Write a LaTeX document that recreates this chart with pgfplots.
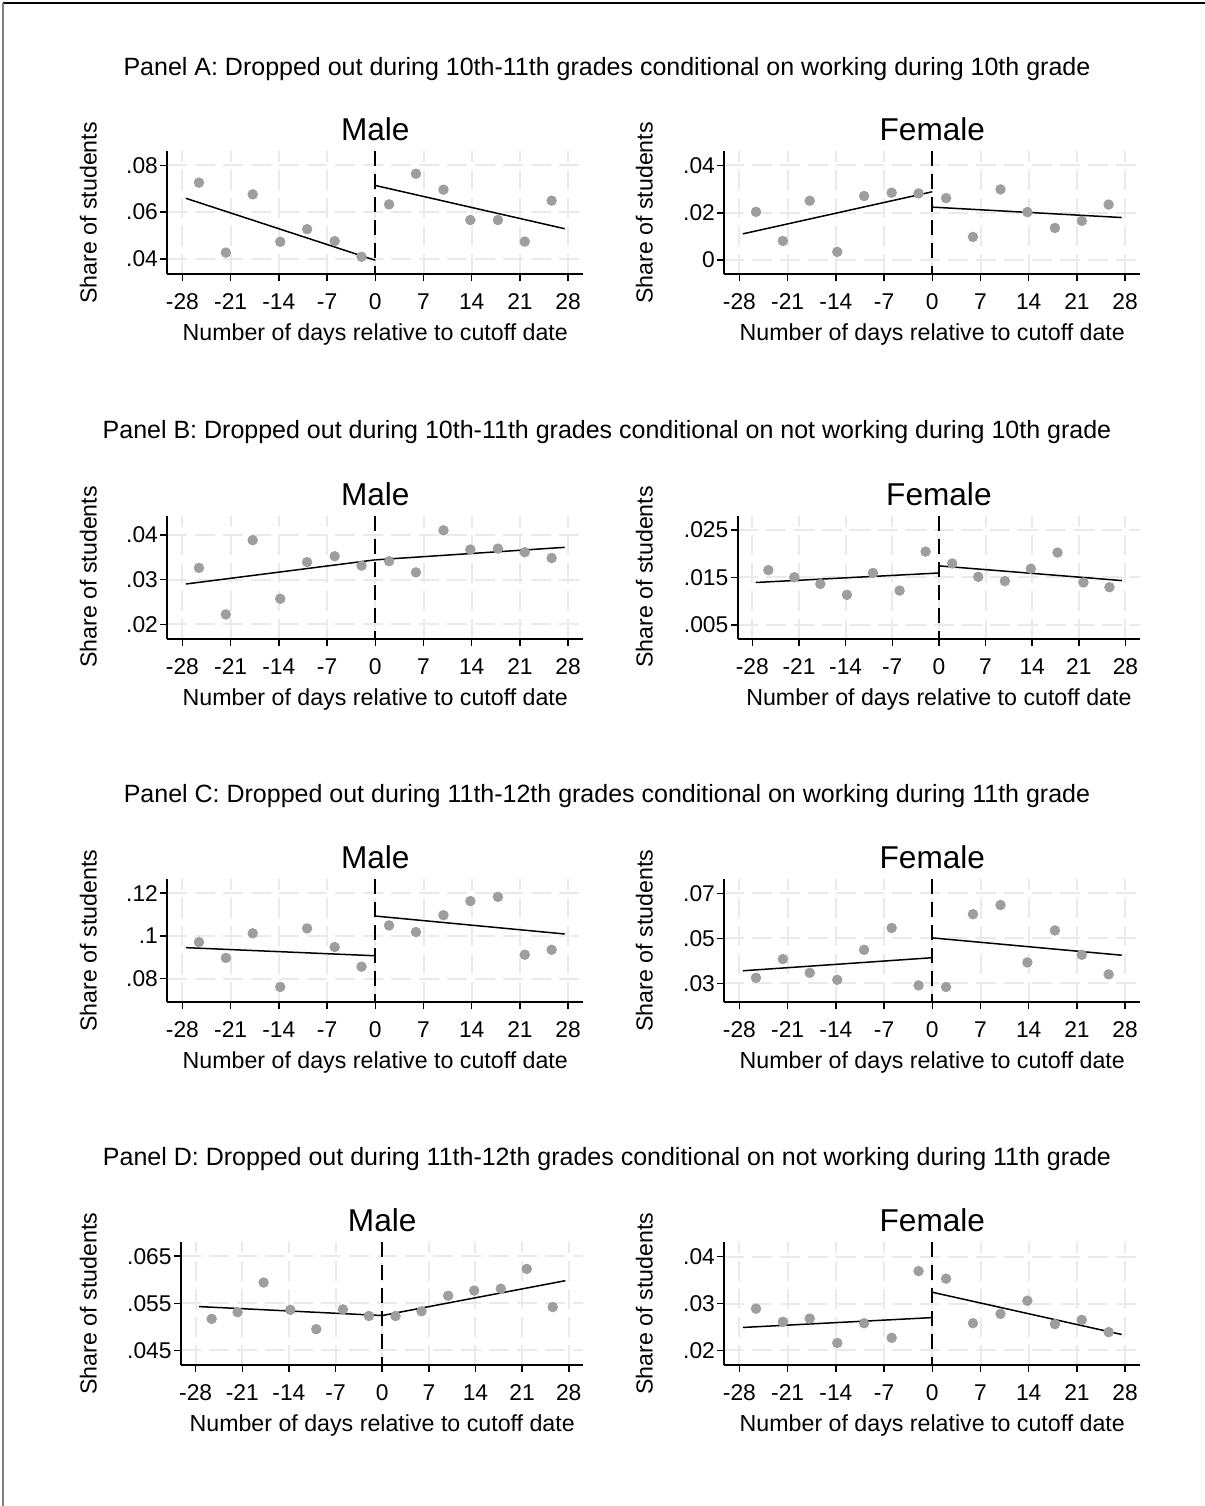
\documentclass[border=0pt]{standalone}
\usepackage{fontspec}
\setmainfont{Liberation Sans}
\usepackage{pgfplots}
\pgfplotsset{compat=1.18}
\definecolor{gridc}{RGB}{234,234,234}
\definecolor{dotc}{RGB}{158,158,158}
\pgfplotsset{
  rd/.style={
    scale only axis, height=61.5pt, width=208pt,
    xmin=-30.2, xmax=30.2,
    axis x line=bottom, axis y line=left,
    axis line style={-, black, line width=1pt},
    every outer x axis line/.append style={-},
    every outer y axis line/.append style={-},
    tick align=outside, major tick length=3.5pt,
    tick style={black, line width=0.75pt},
    scaled y ticks=false, scaled x ticks=false,
    xtick={-28,-21,-14,-7,0,7,14,21,28},
    xticklabels={-28,-21,-14,-7,0,7,14,21,28},
    grid=major, major grid style={gridc, line width=1pt, dash pattern=on 10pt off 4pt},
    ticklabel style={font=\fontsize{11.4}{13}\selectfont},
    xticklabel style={anchor=base, yshift=-14pt},
    yticklabel style={anchor=east, inner xsep=1pt},
    title style={font=\fontsize{15.8}{18}\selectfont, at={(axis description cs:0.5,1)}, anchor=base, yshift=-0.8pt},
    xlabel={Number of days relative to cutoff date},
    xlabel style={font=\fontsize{11.6}{14}\selectfont, at={(axis description cs:0.5,0)}, anchor=base, yshift=-33.3pt},
    anchor=south west,
  },
  pts/.style={only marks, mark=*, mark size=2.4pt, color=dotc},
  fit/.style={black, line width=0.75pt, no marks},
  zero/.style={black, line width=1pt, dash pattern=on 7.5pt off 4pt, no marks},
}
\begin{document}
\begin{tikzpicture}
\path[use as bounding box] (0,0) rectangle (602.5pt,-753pt);
\draw[black, line width=0.6pt] (1.5pt,-1.5pt) -- (602.5pt,-1.5pt);
\draw[gray, line width=0.8pt] (1.5pt,-1.5pt) -- (1.5pt,-753pt);

% headers
\node[anchor=base, font=\fontsize{12.5}{15}\selectfont] at (303.5pt,-37.5pt) {Panel A: Dropped out during 10th-11th grades conditional on working during 10th grade};
\node[anchor=base, font=\fontsize{12.5}{15}\selectfont] at (303.5pt,-219.15pt) {Panel B: Dropped out during 10th-11th grades conditional on not working during 10th grade};
\node[anchor=base, font=\fontsize{12.5}{15}\selectfont] at (303.5pt,-401.15pt) {Panel C: Dropped out during 11th-12th grades conditional on working during 11th grade};
\node[anchor=base, font=\fontsize{12.5}{15}\selectfont] at (303.5pt,-582.8pt) {Panel D: Dropped out during 11th-12th grades conditional on not working during 11th grade};

% y labels
\foreach \yy in {-106.5,-288.5,-470.3,-651.8}{
  \node[rotate=90, anchor=base, font=\fontsize{11.6}{14}\selectfont] at (48.35pt,\yy pt) {Share of students};
  \node[rotate=90, anchor=base, font=\fontsize{11.6}{14}\selectfont] at (326.35pt,\yy pt) {Share of students};
}

% Panel A male
\begin{axis}[rd, at={(83.65pt,-137.15pt)}, ymin=0.0334, ymax=0.086,
  ytick={0.04,0.06,0.08}, yticklabels={.04,.06,.08}, title={Male}]
\addplot[pts] coordinates {(-25.6,0.0726)(-21.7,0.0427)(-17.8,0.0676)(-13.8,0.0473)(-9.9,0.0527)(-5.9,0.0476)(-2.0,0.0409)
 (2.0,0.0633)(5.9,0.0764)(9.9,0.0696)(13.8,0.0566)(17.8,0.0566)(21.7,0.0474)(25.6,0.0649)};
\addplot[fit] coordinates {(-27.5,0.0659)(0,0.0394)};
\addplot[fit] coordinates {(0,0.0714)(27.5,0.0529)};
\addplot[zero] coordinates {(0,0.086)(0,0.0334)};
\end{axis}

% Panel A female
\begin{axis}[rd, at={(362.15pt,-137.15pt)}, ymin=-0.006, ymax=0.046,
  ytick={0,0.02,0.04}, yticklabels={0,.02,.04}, title={Female}]
\addplot[pts] coordinates {(-25.6,0.0204)(-21.7,0.0081)(-17.8,0.0251)(-13.8,0.0035)(-9.9,0.0271)(-5.9,0.0285)(-2.0,0.0282)
 (2.0,0.0262)(5.9,0.0098)(9.9,0.0299)(13.8,0.0203)(17.8,0.0136)(21.7,0.0166)(25.6,0.0235)};
\addplot[fit] coordinates {(-27.5,0.0111)(0,0.0289)};
\addplot[fit] coordinates {(0,0.0224)(27.5,0.0180)};
\addplot[zero] coordinates {(0,0.046)(0,-0.006)};
\end{axis}

% Panel B male
\begin{axis}[rd, at={(83.65pt,-319.5pt)}, ymin=0.0167, ymax=0.0442,
  ytick={0.02,0.03,0.04}, yticklabels={.02,.03,.04}, title={Male}]
\addplot[pts] coordinates {(-25.6,0.0326)(-21.7,0.0222)(-17.8,0.0388)(-13.8,0.0257)(-9.9,0.0339)(-5.9,0.0352)(-2.0,0.0331)
 (2.0,0.0341)(5.9,0.0316)(9.9,0.0410)(13.8,0.0367)(17.8,0.0369)(21.7,0.0361)(25.6,0.0348)};
\addplot[fit] coordinates {(-27.5,0.0290)(0,0.0344)};
\addplot[fit] coordinates {(0,0.0344)(27.5,0.0372)};
\addplot[zero] coordinates {(0,0.0442)(0,0.0167)};
\end{axis}

% Panel B female
\begin{axis}[rd, at={(368.85pt,-319.5pt)}, width=201.2pt, ymin=0.0020, ymax=0.0279,
  ytick={0.005,0.015,0.025}, yticklabels={.005,.015,.025}, title={Female}]
\addplot[pts] coordinates {(-25.6,0.0165)(-21.7,0.0150)(-17.8,0.0136)(-13.8,0.0113)(-9.9,0.0159)(-5.9,0.0122)(-2.0,0.0204)
 (2.0,0.0179)(5.9,0.0151)(9.9,0.0142)(13.8,0.0168)(17.8,0.0202)(21.7,0.0139)(25.6,0.0129)};
\addplot[fit] coordinates {(-27.5,0.0139)(0,0.0159)};
\addplot[fit] coordinates {(0,0.0174)(27.5,0.0143)};
\addplot[zero] coordinates {(0,0.0279)(0,0.0020)};
\end{axis}

% Panel C male
\begin{axis}[rd, at={(83.65pt,-501.15pt)}, ymin=0.0689, ymax=0.1265,
  ytick={0.08,0.1,0.12}, yticklabels={.08,.1,.12}, title={Male}]
\addplot[pts] coordinates {(-25.6,0.0971)(-21.7,0.0897)(-17.8,0.1012)(-13.8,0.0761)(-9.9,0.1035)(-5.9,0.0948)(-2.0,0.0856)
 (2.0,0.1049)(5.9,0.1018)(9.9,0.1097)(13.8,0.1163)(17.8,0.1183)(21.7,0.0912)(25.6,0.0935)};
\addplot[fit] coordinates {(-27.5,0.0945)(0,0.0907)};
\addplot[fit] coordinates {(0,0.1093)(27.5,0.1009)};
\addplot[zero] coordinates {(0,0.1265)(0,0.0689)};
\end{axis}

% Panel C female
\begin{axis}[rd, at={(362.15pt,-501.15pt)}, ymin=0.0216, ymax=0.0762,
  ytick={0.03,0.05,0.07}, yticklabels={.03,.05,.07}, title={Female}]
\addplot[pts] coordinates {(-25.6,0.0325)(-21.7,0.0408)(-17.8,0.0347)(-13.8,0.0316)(-9.9,0.0449)(-5.9,0.0546)(-2.0,0.0291)
 (2.0,0.0284)(5.9,0.0607)(9.9,0.0648)(13.8,0.0393)(17.8,0.0535)(21.7,0.0427)(25.6,0.0340)};
\addplot[fit] coordinates {(-27.5,0.0356)(0,0.0414)};
\addplot[fit] coordinates {(0,0.0502)(27.5,0.0425)};
\addplot[zero] coordinates {(0,0.0762)(0,0.0216)};
\end{axis}

% Panel D male
\begin{axis}[rd, at={(90.5pt,-682.5pt)}, width=201.2pt, ymin=0.0419, ymax=0.068,
  ytick={0.045,0.055,0.065}, yticklabels={.045,.055,.065}, title={Male}]
\addplot[pts] coordinates {(-25.6,0.0517)(-21.7,0.0531)(-17.8,0.0594)(-13.8,0.0536)(-9.9,0.0495)(-5.9,0.0537)(-2.0,0.0523)
 (2.0,0.0523)(5.9,0.0533)(9.9,0.0566)(13.8,0.0577)(17.8,0.0581)(21.7,0.0623)(25.6,0.0542)};
\addplot[fit] coordinates {(-27.5,0.0543)(0,0.0524)};
\addplot[fit] coordinates {(0,0.0524)(27.5,0.0598)};
\addplot[zero] coordinates {(0,0.068)(0,0.0419)};
\end{axis}

% Panel D female
\begin{axis}[rd, at={(362.15pt,-682.5pt)}, ymin=0.0169, ymax=0.0431,
  ytick={0.02,0.03,0.04}, yticklabels={.02,.03,.04}, title={Female}]
\addplot[pts] coordinates {(-25.6,0.0289)(-21.7,0.0261)(-17.8,0.0268)(-13.8,0.0216)(-9.9,0.0258)(-5.9,0.0227)(-2.0,0.0369)
 (2.0,0.0353)(5.9,0.0258)(9.9,0.0278)(13.8,0.0306)(17.8,0.0256)(21.7,0.0265)(25.6,0.0239)};
\addplot[fit] coordinates {(-27.5,0.0249)(0,0.0270)};
\addplot[fit] coordinates {(0,0.0324)(27.5,0.0234)};
\addplot[zero] coordinates {(0,0.0431)(0,0.0169)};
\end{axis}
\end{tikzpicture}
\end{document}
